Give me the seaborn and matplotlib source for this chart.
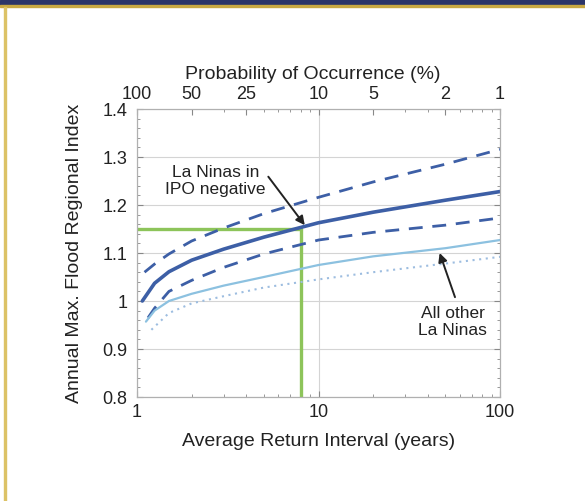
import numpy as np
import pandas as pd
import matplotlib
matplotlib.use('Agg')
import matplotlib.pyplot as plt
import seaborn as sns
from matplotlib.patches import Rectangle
from matplotlib.ticker import NullFormatter, MultipleLocator, LogLocator

# return interval (years) and flood index values
T_neg = [1.07, 1.25, 1.5, 2, 3, 5, 10, 20, 50, 100]
neg_median = [1.00, 1.037, 1.061, 1.085, 1.108, 1.133, 1.163, 1.185, 1.21, 1.228]

T_neg_hi = [1.1, 1.25, 1.5, 2, 3, 5, 10, 20, 50, 100]
neg_upper = [1.06, 1.077, 1.098, 1.125, 1.152, 1.182, 1.216, 1.248, 1.285, 1.316]

T_neg_lo = [1.15, 1.25, 1.5, 2, 3, 5, 10, 20, 50, 100]
neg_lower = [0.965, 0.985, 1.02, 1.043, 1.07, 1.098, 1.127, 1.143, 1.158, 1.173]

T_other = [1.12, 1.25, 1.5, 2, 3, 5, 10, 20, 50, 100]
other_median = [0.957, 0.98, 1.0, 1.015, 1.032, 1.05, 1.075, 1.093, 1.11, 1.127]

T_other_lo = [1.2, 1.5, 2, 3, 5, 10, 20, 50, 100]
other_lower = [0.94, 0.975, 0.995, 1.01, 1.028, 1.045, 1.06, 1.078, 1.092]

# highlighted design point
target_T = 8
target_q = 1.15

y_ticks = [0.8, 0.9, 1.0, 1.1, 1.2, 1.3, 1.4]
y_labels = ['0.8', '0.9', '1', '1.1', '1.2', '1.3', '1.4']
x_ticks = [1, 10, 100]
prob_ticks = [1, 2, 4, 10, 20, 50, 100]
prob_labels = ['100', '50', '25', '10', '5', '2', '1']

sns.set_style('ticks')
plt.rcParams['font.family'] = ['Liberation Sans', 'DejaVu Sans']

fig = plt.figure(figsize=(5.85, 5.01), dpi=100)

# page decoration: navy band and gold border
fig.patches.append(Rectangle((0, 1 - 5/501), 1, 5/501, transform=fig.transFigure,
                             color='#2b3468', zorder=0))
fig.patches.append(Rectangle((0, 1 - 7/501), 1, 2/501, transform=fig.transFigure,
                             color='#c9a842', zorder=0))
fig.patches.append(Rectangle((4/585, 0), 2/585, 1 - 7/501, transform=fig.transFigure,
                             color='#dcc266', zorder=0))

ax = fig.add_axes([137/585, 1 - 397/501, 363/585, 288/501])
ax.set_xscale('log')

dark = '#3d5fa6'
light = '#8cc1e0'
sns.lineplot(x=T_neg_hi, y=neg_upper, ax=ax, color=dark, linewidth=2.0,
             linestyle=(0, (5, 3.5)))
sns.lineplot(x=T_neg_lo, y=neg_lower, ax=ax, color=dark, linewidth=2.0,
             linestyle=(0, (5, 3.5)))
sns.lineplot(x=T_neg, y=neg_median, ax=ax, color=dark, linewidth=2.6)
sns.lineplot(x=T_other, y=other_median, ax=ax, color=light, linewidth=1.6)
sns.lineplot(x=T_other_lo, y=other_lower, ax=ax, color='#9dbde0', linewidth=1.5,
             linestyle=(0, (1, 2.2)))

ax.plot([1, target_T], [target_q, target_q], color='#8dc45a', linewidth=2.4, zorder=1)
ax.plot([target_T, target_T], [0.8, target_q], color='#8dc45a', linewidth=2.4, zorder=1)

ax.set_xlim(1, 100)
ax.set_ylim(0.8, 1.4)
ax.set_yticks(y_ticks)
ax.set_yticklabels(y_labels)
ax.yaxis.set_minor_locator(MultipleLocator(0.02))
ax.set_xticks(x_ticks)
ax.set_xticklabels([str(t) for t in x_ticks])
ax.xaxis.set_minor_locator(LogLocator(base=10, subs=np.arange(2, 10)))
ax.xaxis.set_minor_formatter(NullFormatter())
ax.grid(True, which='major', color='#d4d4d4', linewidth=0.8)
ax.set_axisbelow(True)
ax.tick_params(which='both', direction='in', top=False, right=True, colors='#888888',
               labelcolor='#222222', labelsize=13)
ax.tick_params(axis='y', pad=7)
ax.tick_params(axis='x', pad=5)
ax.tick_params(which='major', length=4)
ax.tick_params(which='minor', length=2)
for s in ax.spines.values():
    s.set_color('#b0b0b0')

ax.set_xlabel('Average Return Interval (years)', fontsize=14, color='#222222')
ax.set_ylabel('Annual Max. Flood Regional Index', fontsize=14, color='#222222')
ax.xaxis.set_label_coords(0.5, -0.125)
ax.yaxis.set_label_coords(-0.15, 0.5)

# top axis: probability of occurrence
top = ax.twiny()
top.set_xscale('log')
top.set_xlim(ax.get_xlim())
top.set_xticks(prob_ticks)
top.set_xticklabels(prob_labels)
top.xaxis.set_minor_locator(LogLocator(base=10, subs=np.arange(2, 10)))
top.xaxis.set_minor_formatter(NullFormatter())
top.tick_params(which='both', direction='in', colors='#888888', labelcolor='#222222',
                labelsize=13, pad=4)
top.tick_params(which='major', length=4)
top.tick_params(which='minor', length=2)
for s in top.spines.values():
    s.set_color('#b0b0b0')
top.set_xlabel('Probability of Occurrence (%)', fontsize=14, color='#222222')
top.xaxis.set_label_coords(0.485, 1.105)

ax.text(2.7, 1.25, 'La Ninas in\nIPO negative', ha='center', va='center',
        fontsize=12.5, color='#222222', linespacing=1.15)
ax.annotate('', xy=(8.4, 1.158), xytext=(5.29, 1.259),
            arrowprops=dict(arrowstyle='-|>', color='#222222', lw=1.4,
                            shrinkA=0, shrinkB=0, mutation_scale=13))
ax.text(55, 0.956, 'All other\nLa Ninas', ha='center', va='center',
        fontsize=12.5, color='#222222', linespacing=1.15)
ax.annotate('', xy=(46.5, 1.1), xytext=(56.5, 1.008),
            arrowprops=dict(arrowstyle='-|>', color='#222222', lw=1.4,
                            shrinkA=0, shrinkB=0, mutation_scale=13))

fig.savefig('out.png', dpi=100)
